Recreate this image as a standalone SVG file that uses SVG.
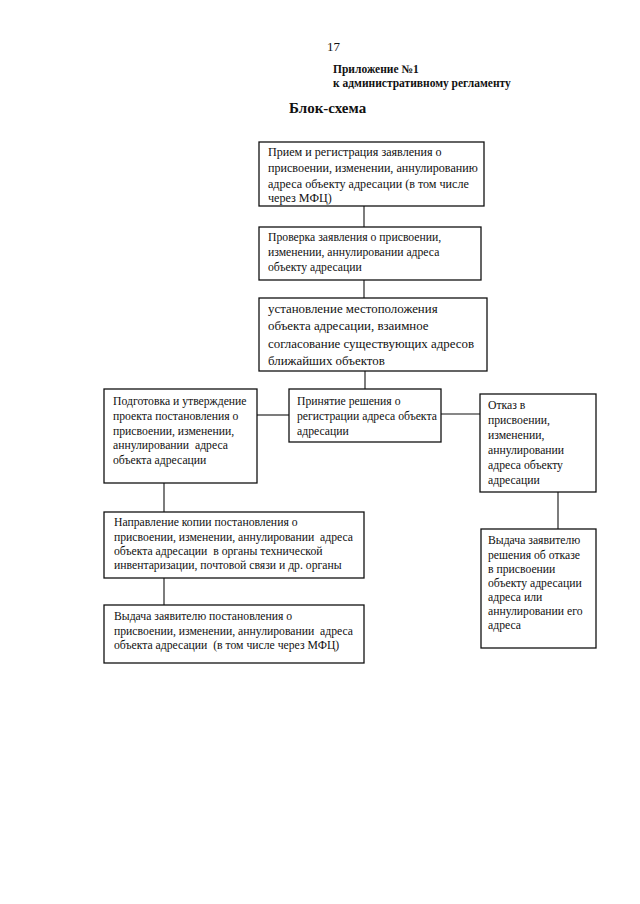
<svg xmlns="http://www.w3.org/2000/svg" width="640" height="904" viewBox="0 0 640 904">
<style>
text{font-family:"Liberation Serif","Times New Roman",serif;fill:#111;white-space:pre}
.t{font-size:11.7px}
.t1{font-size:12.1px}
.t3{font-size:12.9px}
.b{font-weight:bold}
rect{fill:#fff;stroke:#111;stroke-width:1.3}
#connectors line{stroke:#111;stroke-width:1.1}
</style>
<rect x="0" y="0" width="640" height="904" style="stroke:none;fill:#fff"/>
<text x="327" y="51" style="font-size:13px">17</text>
<text x="333" y="73" class="b" style="font-size:11.5px">Приложение №1</text>
<text x="333" y="87" class="b" style="font-size:11.5px">к административному регламенту</text>
<text x="289" y="113" class="b" style="font-size:15px">Блок-схема</text>
<g id="connectors">
<line x1="364" y1="206" x2="364" y2="227"/>
<line x1="364" y1="280" x2="364" y2="298"/>
<line x1="365" y1="371" x2="365" y2="389"/>
<line x1="257" y1="415" x2="289" y2="415"/>
<line x1="441" y1="414" x2="480" y2="414"/>
<line x1="164" y1="483" x2="164" y2="512"/>
<line x1="164" y1="578" x2="164" y2="605"/>
<line x1="558" y1="492" x2="558" y2="529"/>
</g>
<g id="n1">
<rect x="259" y="142" width="225" height="64"/>
<text class="t1" x="268" y="156">Прием и регистрация заявления о</text>
<text class="t1" x="268" y="172">присвоении, изменении, аннулированию</text>
<text class="t1" x="268" y="188">адреса объекту адресации (в том числе</text>
<text class="t1" x="268" y="202">через МФЦ)</text>
</g>
<g id="n2">
<rect x="259" y="227" width="222" height="53"/>
<text class="t" x="268" y="241">Проверка заявления о присвоении,</text>
<text class="t" x="268" y="256">изменении, аннулировании адреса</text>
<text class="t" x="268" y="271">объекту адресации</text>
</g>
<g id="n3">
<rect x="259" y="298" width="228" height="73"/>
<text class="t3" x="268" y="313">установление местоположения</text>
<text class="t3" x="268" y="330">объекта адресации, взаимное</text>
<text class="t3" x="268" y="348">согласование существующих адресов</text>
<text class="t3" x="268" y="365">ближайших объектов</text>
</g>
<g id="n4">
<rect x="104" y="389" width="153" height="94"/>
<text class="t" x="113" y="405">Подготовка и утверждение</text>
<text class="t" x="113" y="420">проекта постановления о</text>
<text class="t" x="113" y="435">присвоении, изменении,</text>
<text class="t" x="113" y="449">аннулировании  адреса</text>
<text class="t" x="113" y="464">объекта адресации</text>
</g>
<g id="n5">
<rect x="289" y="389" width="152" height="53"/>
<text class="t" x="297" y="405">Принятие решения о</text>
<text class="t" x="297" y="420">регистрации адреса объекта</text>
<text class="t" x="297" y="435">адресации</text>
</g>
<g id="n6">
<rect x="480" y="394" width="116" height="98"/>
<text class="t" x="488" y="409">Отказ в</text>
<text class="t" x="488" y="424">присвоении,</text>
<text class="t" x="488" y="439">изменении,</text>
<text class="t" x="488" y="454">аннулировании</text>
<text class="t" x="488" y="469">адреса объекту</text>
<text class="t" x="488" y="484">адресации</text>
</g>
<g id="n7">
<rect x="104" y="512" width="260" height="66"/>
<text class="t" x="114" y="526">Направление копии постановления о</text>
<text class="t" x="114" y="541">присвоении, изменении, аннулировании  адреса</text>
<text class="t" x="114" y="555">объекта адресации  в органы технической</text>
<text class="t" x="114" y="569">инвентаризации, почтовой связи и др. органы</text>
</g>
<g id="n8">
<rect x="104" y="605" width="260" height="58"/>
<text class="t" x="114" y="620">Выдача заявителю постановления о</text>
<text class="t" x="114" y="635">присвоении, изменении, аннулировании  адреса</text>
<text class="t" x="114" y="649">объекта адресации  (в том числе через МФЦ)</text>
</g>
<g id="n9">
<rect x="481" y="529" width="115" height="119"/>
<text class="t" x="488" y="544">Выдача заявителю</text>
<text class="t" x="488" y="559">решения об отказе</text>
<text class="t" x="488" y="573">в присвоении</text>
<text class="t" x="488" y="587">объекту адресации</text>
<text class="t" x="488" y="601">адреса или</text>
<text class="t" x="488" y="615">аннулировании его</text>
<text class="t" x="488" y="629">адреса</text>
</g>
</svg>
